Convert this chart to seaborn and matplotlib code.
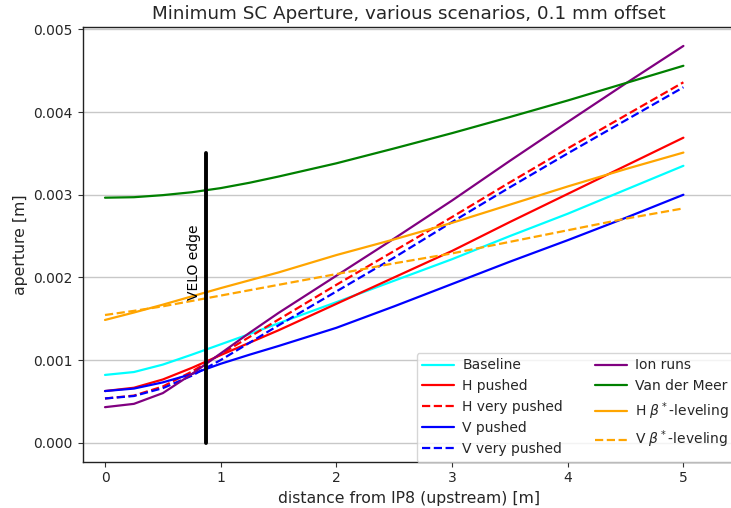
import matplotlib
matplotlib.use("Agg")
import matplotlib.pyplot as plt
import seaborn as sns
import pandas as pd
from matplotlib.ticker import FormatStrFormatter

# distance from IP8 [m]
x_pos = [0, 0.25, 0.5, 0.75, 1, 1.25, 1.5, 2, 2.5, 3, 3.5, 4, 4.5, 5]

# apertures in mm (converted to m below)
baseline      = [0.82, 0.855, 0.945, 1.065, 1.19, 1.315, 1.445, 1.70, 1.96, 2.22, 2.50, 2.77, 3.06, 3.35]
h_pushed      = [0.625, 0.665, 0.765, 0.905, 1.06, 1.21, 1.36, 1.68, 2.00, 2.32, 2.67, 3.01, 3.35, 3.69]
h_very_pushed = [0.535, 0.57, 0.68, 0.86, 1.07, 1.28, 1.49, 1.91, 2.32, 2.73, 3.15, 3.56, 3.96, 4.36]
v_pushed      = [0.625, 0.655, 0.73, 0.83, 0.955, 1.065, 1.17, 1.39, 1.65, 1.92, 2.19, 2.45, 2.72, 3.00]
v_very_pushed = [0.535, 0.565, 0.66, 0.81, 1.00, 1.21, 1.42, 1.83, 2.24, 2.67, 3.09, 3.50, 3.90, 4.30]
ion_runs      = [0.43, 0.47, 0.60, 0.83, 1.08, 1.33, 1.57, 2.02, 2.47, 2.93, 3.41, 3.88, 4.345, 4.80]
van_der_meer  = [2.964, 2.97, 2.995, 3.03, 3.08, 3.145, 3.22, 3.38, 3.56, 3.745, 3.94, 4.14, 4.35, 4.56]
h_beta_lev    = [1.485, 1.575, 1.67, 1.77, 1.87, 1.965, 2.06, 2.27, 2.46, 2.66, 2.88, 3.10, 3.31, 3.51]
v_beta_lev    = [1.545, 1.595, 1.65, 1.715, 1.78, 1.845, 1.91, 2.04, 2.17, 2.29, 2.43, 2.57, 2.71, 2.835]

series_names = ["Baseline", "H pushed", "H very pushed", "V pushed", "V very pushed",
                "Ion runs", "Van der Meer", r"H $\beta^*$-leveling", r"V $\beta^*$-leveling"]
series_vals = [baseline, h_pushed, h_very_pushed, v_pushed, v_very_pushed,
               ion_runs, van_der_meer, h_beta_lev, v_beta_lev]
series_colors = ["cyan", "red", "red", "blue", "blue", "purple", "green", "orange", "orange"]
series_dash = ["-", "-", "--", "-", "--", "-", "-", "-", "--"]

velo_x = [0.875, 0.875]
velo_y = [0.0, 0.0035]

sns.set_style("ticks")
plt.rcParams['font.family'] = ['DejaVu Sans']

fig = plt.figure(figsize=(7.31, 5.08), dpi=100)
ax = fig.add_axes([0.1131, 0.0911, 0.893, 0.8559])

for name, vals, col, ls in zip(series_names, series_vals, series_colors, series_dash):
    df = pd.DataFrame({"x": x_pos, "y": [v * 1e-3 for v in vals]})
    sns.lineplot(data=df, x="x", y="y", ax=ax, color=col, linestyle=ls,
                 linewidth=1.6, label=name)

sns.lineplot(x=velo_x, y=velo_y, ax=ax, color="black", linewidth=2.8,
             estimator=None, sort=False)
ax.text(0.77, 0.00218, "VELO edge", rotation=90, ha="center", va="center",
        fontsize=10, color="black")

ax.set_xlim(-0.193, 5.45)
ax.set_ylim(-0.00023, 0.00503)
ax.set_xticks([0, 1, 2, 3, 4, 5])
ax.set_yticks([0.0, 0.001, 0.002, 0.003, 0.004, 0.005])
ax.yaxis.set_major_formatter(FormatStrFormatter('%.3f'))
ax.tick_params(axis='both', labelsize=10, length=3.5, width=0.8, color='#333333',
               direction='out')
ax.grid(axis='y', color='#c8c8c8', linewidth=1.0)
ax.grid(axis='x', visible=False)
for sp in ax.spines.values():
    sp.set_color('#222222')
    sp.set_linewidth(1.0)

ax.set_title("Minimum SC Aperture, various scenarios, 0.1 mm offset", fontsize=13.2)
ax.set_xlabel("distance from IP8 (upstream) [m]", fontsize=11.3)
ax.set_ylabel("aperture [m]", fontsize=11.3)

ax.legend(loc="lower left", bbox_to_anchor=(0.5116, 0.0), borderaxespad=0.0,
          ncol=2, fontsize=10, frameon=True, columnspacing=2.3,
          handlelength=2.3, handletextpad=0.6)

fig.savefig("out.png", dpi=100)
